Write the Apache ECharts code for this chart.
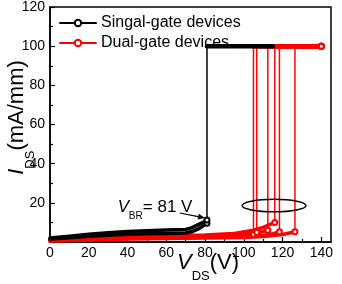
<!DOCTYPE html>
<html><head><meta charset="utf-8">
<script src="https://cdn.jsdelivr.net/npm/echarts@6/dist/echarts.min.js"></script>
<style>html,body{margin:0;padding:0;background:#fff}#c{width:342px;height:284px}</style>
</head><body><div id="c"></div>
<script>
// ---- data ----
const singleName = 'Singal-gate devices';
const dualName = 'Dual-gate devices';
const compliance = 100;            // mA/mm
const singleSweepEnd = 115;        // V (black top line end)
const dualSweepEnd = 140;          // V

const singleV  = [0, 10, 20, 30, 40, 50, 60, 70, 73, 76, 79, 81];
const singleIA = [2.0, 3.0, 3.9, 4.7, 5.4, 5.8, 6.1, 6.4, 7.2, 8.6, 10.0, 11.2];
const singleIB = [1.5, 2.2, 2.9, 3.4, 3.9, 4.2, 4.4, 4.6, 5.2, 6.4, 8.2, 9.6];
const singleVbr = 81;

const dualV1 = [0, 20, 40, 60, 80, 95, 102, 105];
const dualI1 = [0.8, 1.5, 2.2, 2.6, 2.9, 3.1, 3.5, 4.0];
const dualV2 = [0, 20, 40, 60, 80, 95, 103, 106.7];
const dualI2 = [1.0, 1.7, 2.5, 2.9, 3.2, 3.5, 4.2, 5.0];
const dualV3 = [0, 20, 40, 60, 80, 95, 105, 112.4];
const dualI3 = [0.9, 1.6, 2.3, 2.7, 3.0, 3.3, 4.2, 6.0];
const dualV4 = [0, 20, 40, 60, 80, 95, 105, 110, 116];
const dualI4 = [1.2, 2.0, 2.8, 3.2, 3.6, 4.4, 6.0, 7.5, 10.0];
const dualV5 = [0, 20, 40, 60, 80, 100, 110, 115, 118.4];
const dualI5 = [0.6, 1.2, 1.8, 2.1, 2.4, 2.7, 3.3, 4.2, 5.2];
const dualV6 = [0, 20, 40, 60, 80, 100, 110, 120, 126.4];
const dualI6 = [0.5, 1.0, 1.5, 1.8, 2.0, 2.3, 2.8, 3.8, 5.2];

const xTicks = [0, 20, 40, 60, 80, 100, 120, 140];
const xMinorTicks = [10, 30, 50, 70, 90, 110, 130];

// annotations (data coordinates)
const ellipseCenter = [115.6, 18.6];
const ellipseRadius = [16.5, 3.2];
const vbrLabelAt = [35, 17.9];
const vbrArrowFrom = [67, 14.8];
const vbrArrowTo = [80, 12.3];

// ---- build ----
const FONT = 'Liberation Sans, Arial, sans-serif';
const RED = '#ff0000', BLACK = '#000000';

function lowSeries(name, color, V, I, z) {
  return {
    type: 'line', name, z, animation: false, silent: true,
    symbol: 'emptyCircle', symbolSize: 5, showSymbol: true, showAllSymbol: true,
    data: V.map((v, k) => ({ value: [v, I[k]], symbol: k === V.length - 1 ? 'emptyCircle' : 'none' })),
    lineStyle: { color, width: 3.5, cap: 'round', join: 'round' },
    itemStyle: { color, borderColor: color, borderWidth: 2.5 }
  };
}
function jumpSeries(name, color, vbr, iLast, z) {
  return {
    type: 'line', name, z, animation: false, silent: true, symbol: 'none',
    data: [[vbr, iLast], [vbr, compliance]],
    lineStyle: { color, width: 1.5 }
  };
}
function topSeries(name, color, vbr, end, z, endMark) {
  return {
    type: 'line', name, z, animation: false, silent: true,
    symbol: 'emptyCircle', symbolSize: 5, showSymbol: true, showAllSymbol: true,
    data: [{ value: [vbr, compliance], symbol: 'none' }, { value: [end, compliance], symbol: endMark ? 'emptyCircle' : 'none' }],
    lineStyle: { color, width: 4.5, cap: 'round' },
    itemStyle: { color, borderColor: color, borderWidth: 2.5 }
  };
}

const series = [];
const duals = [[dualV1, dualI1], [dualV2, dualI2], [dualV3, dualI3], [dualV4, dualI4], [dualV5, dualI5], [dualV6, dualI6]];
duals.forEach(([V, I]) => {
  series.push(lowSeries(dualName, RED, V, I, 2));
});
duals.forEach(([V, I]) => {
  const vbr = V[V.length - 1];
  series.push(jumpSeries(dualName, RED, vbr, I[I.length - 1], 2));
  series.push(topSeries(dualName, RED, vbr, dualSweepEnd, 2, true));
});
series.push(lowSeries(singleName, BLACK, singleV, singleIB, 3));
series.push(lowSeries(singleName, BLACK, singleV, singleIA, 3));
series.push(jumpSeries(singleName, BLACK, singleVbr, singleIA[singleIA.length - 1], 3));
series.push(topSeries(singleName, BLACK, singleVbr, singleSweepEnd, 3, false));

series.push({
  type: 'custom', z: 5, silent: true, animation: false, clip: false,
  data: [[0, 0]],
  renderItem: function (params, api) {
    const c = api.coord(ellipseCenter);
    const s = api.size(ellipseRadius);
    const a = api.coord(vbrArrowFrom), b = api.coord(vbrArrowTo);
    const dx = b[0] - a[0], dy = b[1] - a[1];
    const L = Math.sqrt(dx * dx + dy * dy), ux = dx / L, uy = dy / L;
    const hl = 7, hw = 3;
    const base = [b[0] - ux * hl, b[1] - uy * hl];
    const t = api.coord(vbrLabelAt);
    return {
      type: 'group', children: [
        { type: 'ellipse', shape: { cx: c[0], cy: c[1], rx: s[0], ry: s[1] }, style: { fill: 'none', stroke: '#000', lineWidth: 1.5 } },
        { type: 'line', shape: { x1: a[0], y1: a[1], x2: base[0], y2: base[1] }, style: { stroke: '#000', lineWidth: 1.2 } },
        { type: 'polygon', shape: { points: [[b[0], b[1]], [base[0] - uy * hw, base[1] + ux * hw], [base[0] + uy * hw, base[1] - ux * hw]] }, style: { fill: '#000' } },
        { type: 'text', x: t[0], y: t[1], style: { text: 'V', fontFamily: FONT, fontStyle: 'italic', fontSize: 17, fill: '#000', verticalAlign: 'middle', align: 'left' } },
        { type: 'text', x: t[0] + 11, y: t[1] + 9, style: { text: 'BR', fontFamily: FONT, fontSize: 10, fill: '#000', verticalAlign: 'middle', align: 'left' } },
        { type: 'text', x: t[0] + 25, y: t[1], style: { text: '= 81 V', fontFamily: FONT, fontSize: 17, fill: '#000', verticalAlign: 'middle', align: 'left' } }
      ]
    };
  }
});

const nameRich = {
  i: { fontFamily: FONT, fontStyle: 'italic', fontSize: 22, lineHeight: 24, verticalAlign: 'top', color: '#000' },
  s: { fontFamily: FONT, fontSize: 13, lineHeight: 13, padding: [18, 0, 0, 0], verticalAlign: 'top', color: '#000' },
  n: { fontFamily: FONT, fontSize: 22, lineHeight: 24, verticalAlign: 'top', color: '#000' }
};

const chart = echarts.init(document.getElementById('c'), null, { renderer: 'canvas' });
chart.setOption({
  animation: false,
  backgroundColor: '#fff',
  grid: { left: 50, right: 11, top: 7, bottom: 42, containLabel: false, outerBoundsMode: 'none', show: true, borderColor: '#000', borderWidth: 1.5, backgroundColor: 'transparent' },
  legend: {
    data: [singleName, dualName], orient: 'vertical', left: 54, top: 10, itemGap: 4,
    itemWidth: 36, itemHeight: 8,
    textStyle: { fontFamily: FONT, fontSize: 16, color: '#000' },
    lineStyle: { width: 2 }
  },
  xAxis: [{
    type: 'value', min: 0, max: 145, interval: 20,
    name: '{i|V}{s|DS}{n|(V)}', nameLocation: 'middle', nameGap: 10, nameMoveOverlap: false,
    nameTextStyle: { rich: nameRich, padding: [0, 0, 0, 35] },
    axisLine: { show: true, lineStyle: { color: '#000', width: 1.5 } },
    axisTick: { show: true, inside: true, length: 5, customValues: xTicks, lineStyle: { color: '#000', width: 1.2 } },
    axisLabel: { customValues: xTicks, fontFamily: FONT, fontSize: 14, color: '#000', margin: 4 },
    splitLine: { show: false }
  }, {
    type: 'value', min: 0, max: 145, position: 'bottom',
    axisLine: { show: false },
    axisTick: { show: true, inside: true, length: 3, customValues: xMinorTicks, lineStyle: { color: '#000', width: 1.2 } },
    axisLabel: { show: false }, splitLine: { show: false }
  }],
  yAxis: {
    type: 'value', min: 0, max: 120, interval: 20,
    name: '{i|I}{s|DS}{n|(mA/mm)}', nameLocation: 'middle', nameGap: 20, nameRotate: 90, nameMoveOverlap: false,
    nameTextStyle: { rich: nameRich, padding: [0, 0, 0, 14] },
    axisLine: { show: true, lineStyle: { color: '#000', width: 1.5 } },
    axisTick: { show: true, inside: true, length: 5, lineStyle: { color: '#000', width: 1.2 } },
    minorTick: { show: true, splitNumber: 2, length: 3, lineStyle: { color: '#000', width: 1.2 } },
    axisLabel: { fontFamily: FONT, fontSize: 14, color: '#000', margin: 5, formatter: v => (v === 0 ? '' : v) },
    splitLine: { show: false }
  },
  series: series
});
</script></body></html>
